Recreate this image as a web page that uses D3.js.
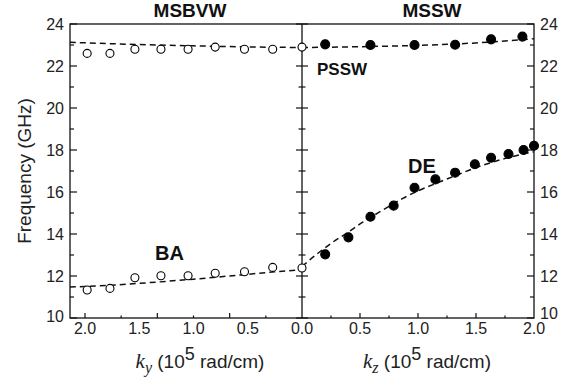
<!DOCTYPE html>
<html>
<head>
<meta charset="utf-8">
<script src="https://cdn.jsdelivr.net/npm/d3@7"></script>
<style>
  body { margin: 0; background: #fff; }
  text { font-family: "Liberation Sans", Arial, sans-serif; fill: #222; }
</style>
</head>
<body>
<div id="chart"></div>
<script>
// data
const kyMsbvw = [1.98, 1.77, 1.54, 1.30, 1.05, 0.80, 0.53, 0.27, 0];
const fMsbvw  = [22.6, 22.6, 22.8, 22.8, 22.8, 22.9, 22.8, 22.8, 22.9];
const kyBa = [1.98, 1.77, 1.54, 1.30, 1.05, 0.80, 0.53, 0.27, 0];
const fBa  = [11.33, 11.41, 11.92, 12.01, 12.01, 12.13, 12.2, 12.41, 12.38];
const kzPssw = [0.2, 0.59, 0.97, 1.32, 1.63, 1.9];
const fPssw  = [23.03, 23.0, 23.0, 23.01, 23.27, 23.4];
const kzDe = [0.2, 0.4, 0.59, 0.79, 0.97, 1.15, 1.32, 1.49, 1.63, 1.78, 1.91, 2.0];
const fDe  = [13.03, 13.84, 14.82, 15.35, 16.2, 16.6, 16.92, 17.32, 17.63, 17.81, 18.0, 18.2];

// dashed theory curves
const fitMsbvwK = [2.14, 1.5, 1.0, 0.5, 0];
const fitMsbvwF = [23.13, 23.02, 22.96, 22.91, 22.88];
const fitBaK = [2.14, 2.0, 1.5, 1.0, 0.5, 0.25, 0];
const fitBaF = [11.48, 11.5, 11.65, 11.85, 12.08, 12.2, 12.3];
const fitPsswK = [0, 0.5, 1.0, 1.5, 2.0];
const fitPsswF = [22.88, 22.92, 22.98, 23.1, 23.3];
const fitDeK = [0, 0.13, 0.26, 0.39, 0.52, 0.7, 0.87, 1.0, 1.15, 1.31, 1.48, 1.72, 2.0];
const fitDeF = [12.45, 13.05, 13.59, 14.06, 14.55, 15.15, 15.7, 16.05, 16.4, 16.75, 17.12, 17.55, 17.92];

const yTicks = [10, 12, 14, 16, 18, 20, 22, 24];
const xLabelTicks = [0, 0.5, 1.0, 1.5, 2.0];

const W = 577, H = 385;
const pLeft = 70, pMid = 302, pRight = 534, pTop = 24, pBottom = 318;

const svg = d3.select("#chart").append("svg").attr("width", W).attr("height", H);

// scales: left panel runs backwards (k_y), right panel forward (k_z)
const xL = d3.scaleLinear().domain([0, 2.0]).range([pMid, 85]);
const xR = d3.scaleLinear().domain([0, 2.0]).range([pMid, pRight]);
const y = d3.scaleLinear().domain([10, 24]).range([pBottom, pTop]);

const zip = (a, b) => a.map((v, i) => [v, b[i]]);

// clip so the dashes stay inside each panel
const defs = svg.append("defs");
defs.append("clipPath").attr("id", "clipL").append("rect")
  .attr("x", pLeft).attr("y", pTop).attr("width", pMid - pLeft).attr("height", pBottom - pTop);
defs.append("clipPath").attr("id", "clipR").append("rect")
  .attr("x", pMid).attr("y", pTop).attr("width", pRight - pMid).attr("height", pBottom - pTop);

const lineL = d3.line().x(d => xL(d[0])).y(d => y(d[1])).curve(d3.curveMonotoneX);
const lineR = d3.line().x(d => xR(d[0])).y(d => y(d[1])).curve(d3.curveMonotoneX);

function dashed(g, gen, pts) {
  g.append("path").attr("d", gen(pts))
    .attr("fill", "none").attr("stroke", "#111").attr("stroke-width", 1.5)
    .attr("stroke-dasharray", "6,4");
}
const gL = svg.append("g").attr("clip-path", "url(#clipL)");
const gR = svg.append("g").attr("clip-path", "url(#clipR)");
dashed(gL, lineL, zip(fitMsbvwK, fitMsbvwF));
dashed(gL, lineL, zip(fitBaK, fitBaF));
dashed(gR, lineR, zip(fitPsswK, fitPsswF));
dashed(gR, lineR, zip(fitDeK, fitDeF));

// frame
svg.append("rect").attr("x", pLeft).attr("y", pTop).attr("width", pRight - pLeft).attr("height", pBottom - pTop)
  .attr("fill", "none").attr("stroke", "#111").attr("stroke-width", 1.3);
svg.append("line").attr("x1", pMid).attr("x2", pMid).attr("y1", pTop).attr("y2", pBottom)
  .attr("stroke", "#111").attr("stroke-width", 1.3);

// y ticks (inward), major every 2 + minors
const yMinor = d3.range(11, 24, 2);
const tickStyle = sel => sel.attr("stroke", "#111").attr("stroke-width", 1.2);
yTicks.forEach(v => {
  tickStyle(svg.append("line").attr("x1", pLeft).attr("x2", pLeft + 7).attr("y1", y(v)).attr("y2", y(v)));
  tickStyle(svg.append("line").attr("x1", pRight - 7).attr("x2", pRight).attr("y1", y(v)).attr("y2", y(v)));
  tickStyle(svg.append("line").attr("x1", pMid - 6).attr("x2", pMid + 6).attr("y1", y(v)).attr("y2", y(v)));
});
yMinor.forEach(v => {
  tickStyle(svg.append("line").attr("x1", pLeft).attr("x2", pLeft + 4).attr("y1", y(v)).attr("y2", y(v)));
  tickStyle(svg.append("line").attr("x1", pRight - 4).attr("x2", pRight).attr("y1", y(v)).attr("y2", y(v)));
  tickStyle(svg.append("line").attr("x1", pMid - 3.5).attr("x2", pMid + 3.5).attr("y1", y(v)).attr("y2", y(v)));
});

// y tick labels, both sides (bottom "10" nudged up so it clears the x labels)
svg.selectAll(".ylabL").data(yTicks).join("text")
  .attr("x", pLeft - 6).attr("y", d => y(d) - (d === 10 ? 2 : 0)).attr("dy", "0.36em")
  .attr("text-anchor", "end").attr("font-size", 16).text(d => d);
svg.selectAll(".ylabR").data(yTicks).join("text")
  .attr("x", pRight + 6).attr("y", d => y(d) - (d === 10 ? 5 : 0)).attr("dy", "0.36em")
  .attr("text-anchor", "start").attr("font-size", 16).text(d => d);

// bottom ticks: left panel every 1/3 (odd but that's the figure), right every 0.25
const leftTicks = [2, 5 / 3, 4 / 3, 1, 2 / 3, 1 / 3];
leftTicks.forEach((v, i) => {
  const len = i % 2 === 0 ? 5 : 2.5;
  tickStyle(svg.append("line").attr("x1", xL(v)).attr("x2", xL(v)).attr("y1", pBottom).attr("y2", pBottom - len));
});
d3.range(0.25, 2, 0.25).forEach(v => {
  const len = Math.abs(v * 2 - Math.round(v * 2)) < 1e-6 ? 5 : 2.5;
  tickStyle(svg.append("line").attr("x1", xR(v)).attr("x2", xR(v)).attr("y1", pBottom).attr("y2", pBottom - len));
});

const fmt = d3.format(".1f");
svg.selectAll(".xlabL").data(xLabelTicks.filter(d => d > 0)).join("text")
  .attr("x", d => xL(d)).attr("y", pBottom + 16)
  .attr("text-anchor", "middle").attr("font-size", 16).text(fmt);
svg.selectAll(".xlabR").data(xLabelTicks).join("text")
  .attr("x", d => xR(d)).attr("y", pBottom + 16)
  .attr("text-anchor", "middle").attr("font-size", 16).text(fmt);

// markers
const mk = (data, xs, filled) => svg.append("g").selectAll("circle").data(data).join("circle")
  .attr("cx", d => xs(d[0])).attr("cy", d => y(d[1]))
  .attr("r", filled ? 4.5 : 4)
  .attr("fill", filled ? "#000" : "#fff")
  .attr("stroke", "#000").attr("stroke-width", 1.1);
mk(zip(kzPssw, fPssw), xR, true);
mk(zip(kzDe, fDe), xR, true);
mk(zip(kyMsbvw, fMsbvw), xL, false);
mk(zip(kyBa, fBa), xL, false);

// titles + mode labels
const bold = (x, yy, s, t, anchor) => svg.append("text").attr("x", x).attr("y", yy)
  .attr("font-size", s).attr("font-weight", "bold").attr("text-anchor", anchor || "start")
  .style("fill", "#111").text(t);
bold(190, 17, 19, "MSBVW", "middle");
bold(432, 17, 19, "MSSW", "middle");
bold(317, 75, 17, "PSSW");
bold(408, 173, 20, "DE");
bold(155, 260, 20, "BA");

// y axis title
svg.append("text").attr("transform", `translate(31,${y(17)}) rotate(-90)`)
  .attr("text-anchor", "middle").attr("font-size", 19).text("Frequency (GHz)");

// x axis titles with italic k and sub/superscripts
function xTitle(cx, sub) {
  const t = svg.append("text").attr("x", cx).attr("y", 368).attr("text-anchor", "middle").attr("font-size", 19);
  t.append("tspan").attr("font-family", "'Liberation Serif', 'Times New Roman', serif")
    .attr("font-style", "italic").attr("font-size", 21).text("k");
  t.append("tspan").attr("font-family", "'Liberation Serif', 'Times New Roman', serif")
    .attr("font-style", "italic").attr("font-size", 16).attr("dy", 5).text(sub);
  t.append("tspan").attr("dy", -5).text(" (10");
  t.append("tspan").attr("dy", -8).attr("font-size", 18).text("5");
  t.append("tspan").attr("dy", 8).text(" rad/cm)");
}
xTitle(200, "y");
xTitle(427, "z");
</script>
</body>
</html>
